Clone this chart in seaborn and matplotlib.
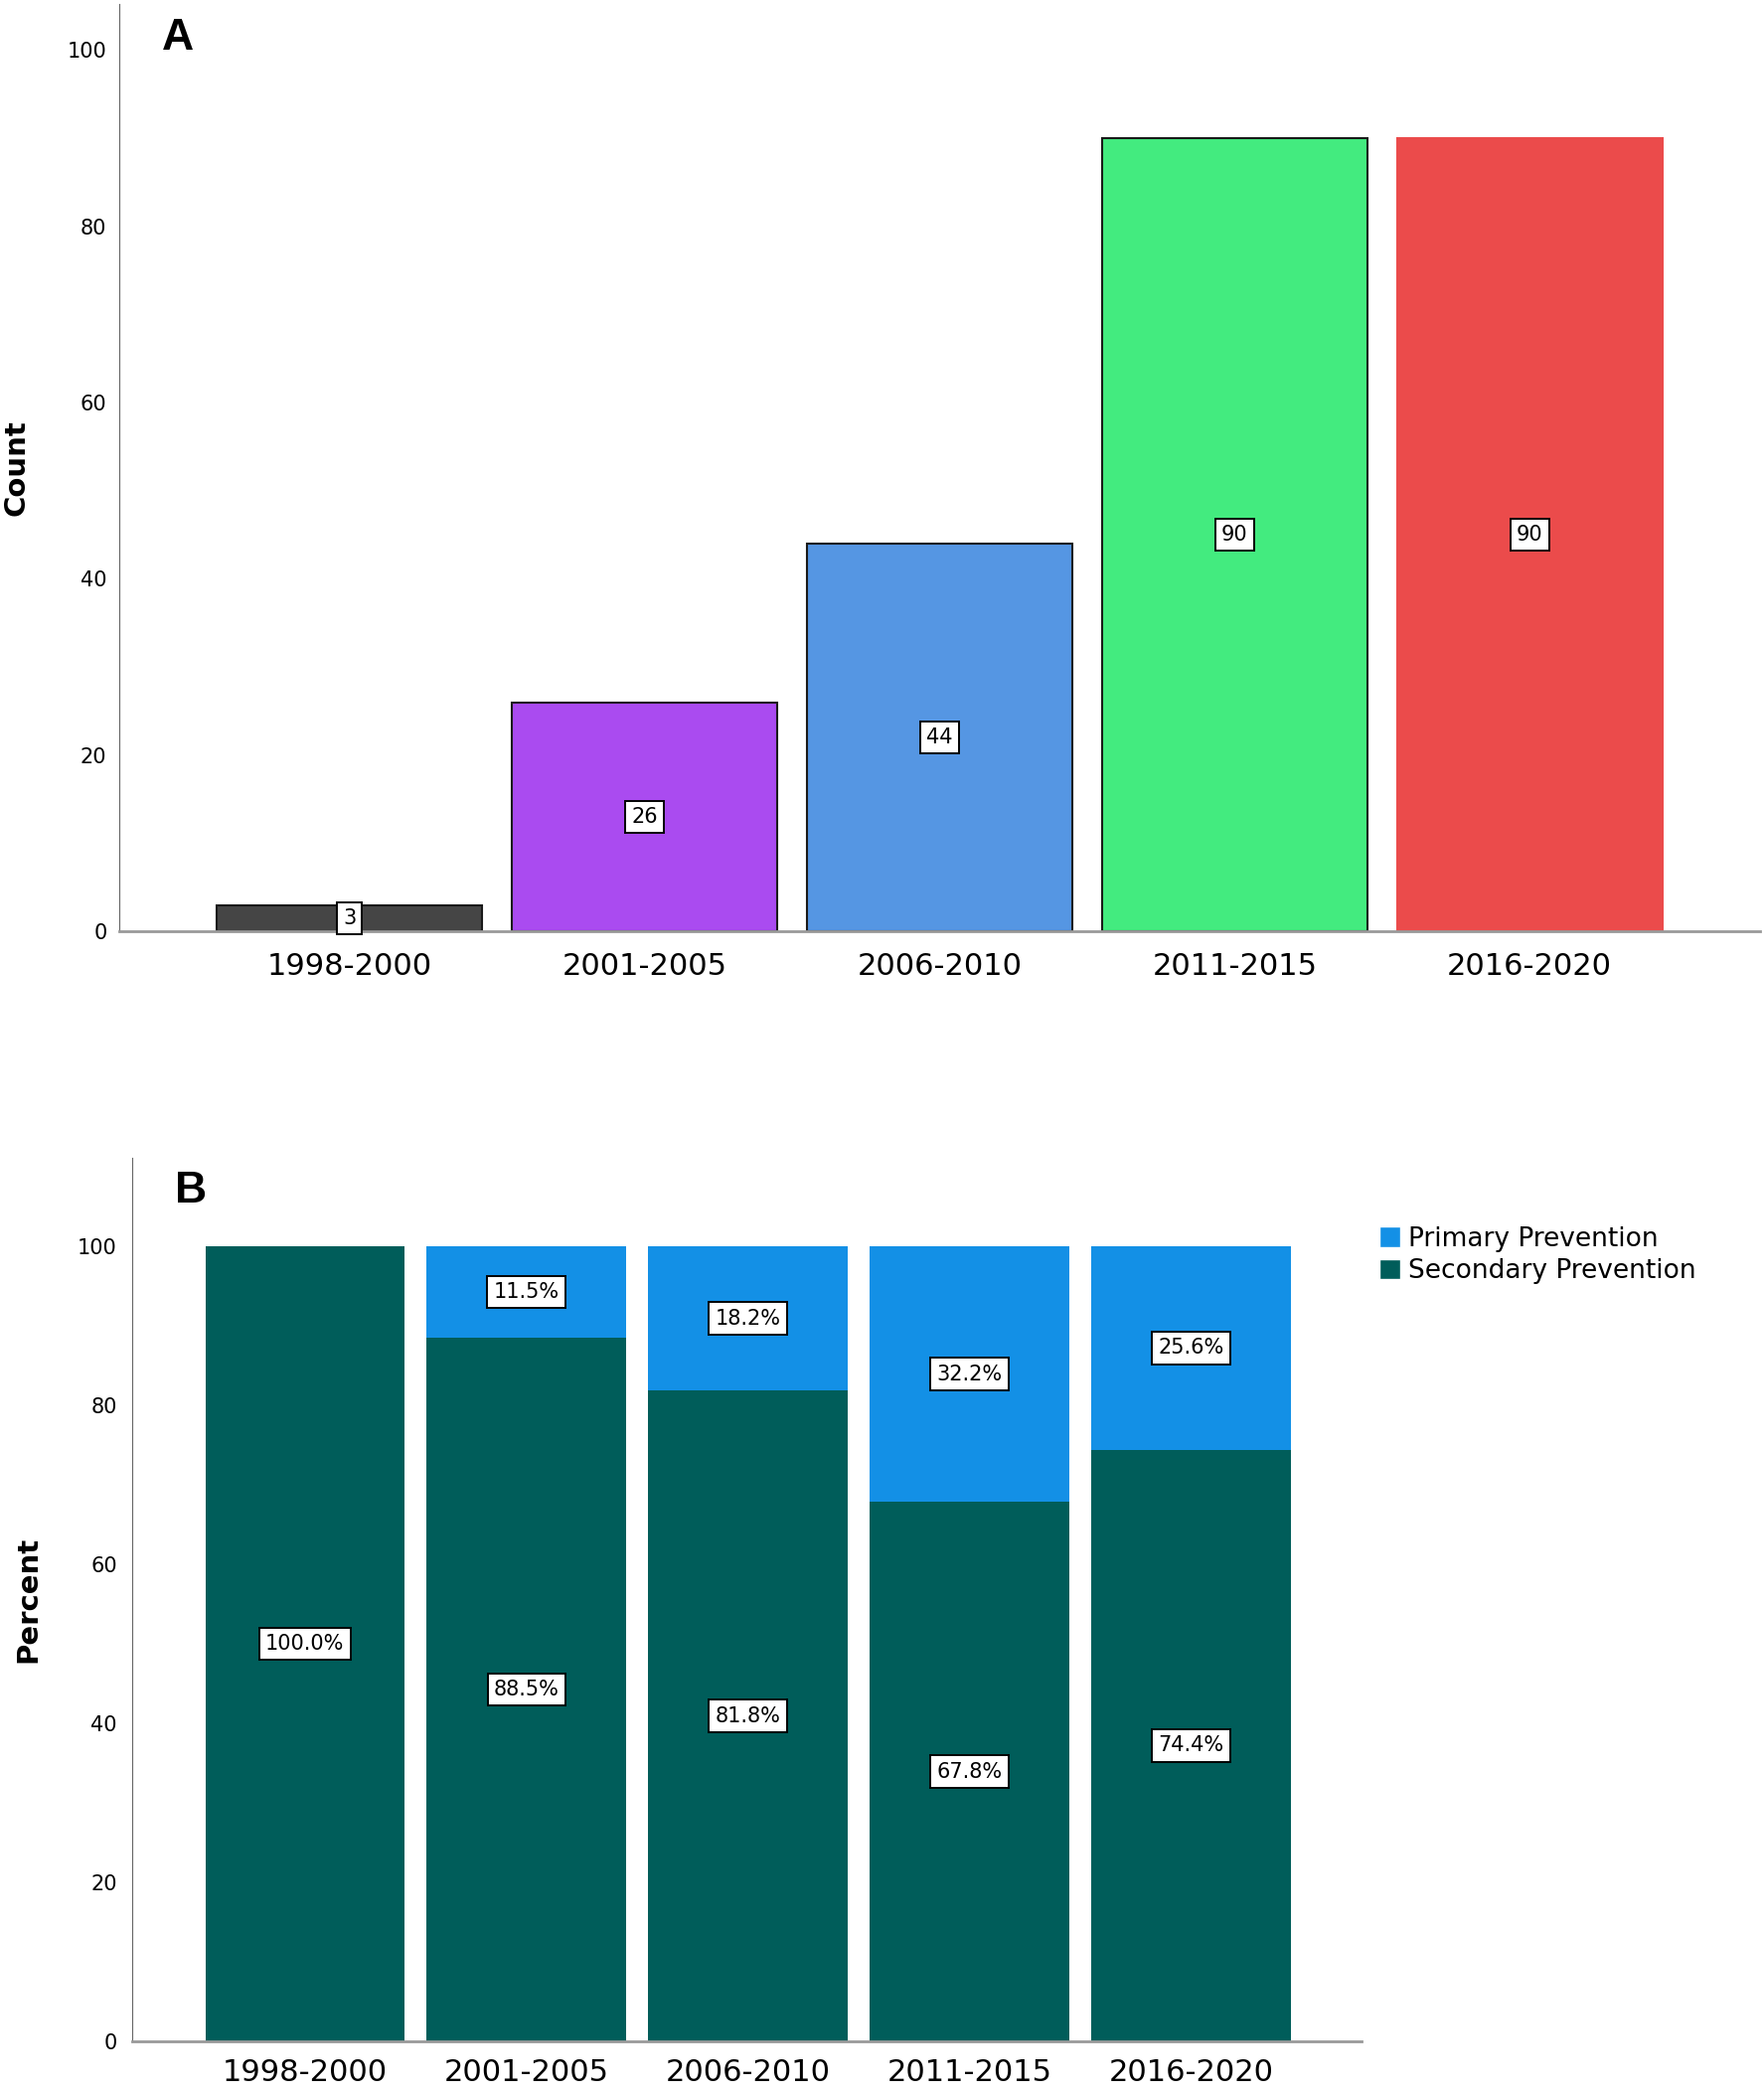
import matplotlib
matplotlib.use("Agg")
import matplotlib.pyplot as plt
import seaborn as sns
import pandas as pd
from matplotlib.patches import Patch

# data
periods = ["1998-2000", "2001-2005", "2006-2010", "2011-2015", "2016-2020"]
counts = [3, 26, 44, 90, 90]
count_colors = ["#454545", "#AA4BF0", "#5596E3", "#43EB7F", "#EB4B4B"]
count_edges = ["#1a1a1a", "#1a1a1a", "#1a1a1a", "#1a1a1a", "#EB4B4B"]

primary_pct = [0.0, 11.5, 18.2, 32.2, 25.6]
secondary_pct = [100.0, 88.5, 81.8, 67.8, 74.4]
primary_color = "#1390E6"
secondary_color = "#005D5A"

sns.set_style("white")
plt.rcParams["font.family"] = ["DejaVu Sans"]
plt.rcParams["text.color"] = "black"
plt.rcParams["axes.labelcolor"] = "black"
plt.rcParams["xtick.color"] = "black"
plt.rcParams["ytick.color"] = "black"

fig = plt.figure(figsize=(17.75, 21.06), dpi=100)

box = dict(boxstyle="square,pad=0.3", facecolor="white", edgecolor="black", linewidth=1.4)

# ---- Panel A: counts per period
ax1 = fig.add_axes([0.0676, 0.555, 0.930, 0.443])
df_a = pd.DataFrame({"Period": periods, "Count": counts})
sns.barplot(data=df_a, x="Period", y="Count", hue="Period", palette=count_colors,
            legend=False, width=0.9, ax=ax1, saturation=1)
for patch, ec in zip(ax1.patches, count_edges):
    patch.set_edgecolor(ec)
    patch.set_linewidth(1.5)
for i, v in enumerate(counts):
    ax1.text(i, v / 2, str(v), ha="center", va="center", fontsize=15, bbox=box)
ax1.set_xlim(-0.78, 4.78)
ax1.set_ylim(0, 105.2)
ax1.set_yticks([0, 20, 40, 60, 80, 100])
ax1.set_xlabel("")
ax1.set_ylabel("Count", fontsize=21, fontweight="bold")
ax1.yaxis.set_label_coords(-0.054, 0.5)
ax1.tick_params(axis="y", length=0, pad=9, labelsize=15)
ax1.tick_params(axis="x", length=0, pad=15, labelsize=22)
sns.despine(ax=ax1)
ax1.spines["left"].set_color("#666666")
ax1.spines["bottom"].set_color("#999999")
ax1.spines["bottom"].set_linewidth(2)
ax1.text(0.026, 0.985, "A", transform=ax1.transAxes, fontsize=32, fontweight="bold",
         family=["Liberation Sans", "DejaVu Sans"], va="top", ha="left")

# ---- Panel B: percent primary vs secondary
ax2 = fig.add_axes([0.0749, 0.0247, 0.697, 0.4221])
totals = [p + s for p, s in zip(primary_pct, secondary_pct)]
df_b = pd.DataFrame({"Period": periods, "Total": totals, "Secondary": secondary_pct})
sns.barplot(data=df_b, x="Period", y="Total", color=primary_color, width=0.9,
            ax=ax2, saturation=1, linewidth=0)
sns.barplot(data=df_b, x="Period", y="Secondary", color=secondary_color, width=0.9,
            ax=ax2, saturation=1, linewidth=0)
for i, (p, s) in enumerate(zip(primary_pct, secondary_pct)):
    ax2.text(i, s / 2, f"{s:.1f}%", ha="center", va="center", fontsize=15, bbox=box)
    if p > 0:
        ax2.text(i, s + p / 2, f"{p:.1f}%", ha="center", va="center", fontsize=15, bbox=box)
ax2.set_xlim(-0.78, 4.77)
ax2.set_ylim(0, 111.1)
ax2.set_yticks([0, 20, 40, 60, 80, 100])
ax2.set_xlabel("")
ax2.set_ylabel("Percent", fontsize=21, fontweight="bold")
ax2.yaxis.set_label_coords(-0.073, 0.5)
ax2.tick_params(axis="y", length=0, pad=11, labelsize=15)
ax2.tick_params(axis="x", length=0, pad=12, labelsize=22)
sns.despine(ax=ax2)
ax2.spines["left"].set_color("#666666")
ax2.spines["bottom"].set_color("#999999")
ax2.spines["bottom"].set_linewidth(2)
ax2.text(0.035, 0.985, "B", transform=ax2.transAxes, fontsize=32, fontweight="bold",
         family=["Liberation Sans", "DejaVu Sans"], va="top", ha="left")

handles = [Patch(facecolor=primary_color, label="Primary Prevention"),
           Patch(facecolor=secondary_color, label="Secondary Prevention")]
fig.legend(handles=handles, loc="upper left", bbox_to_anchor=(0.7745, 0.4205),
           frameon=False, fontsize=19, handlelength=0.8, handleheight=0.8,
           handletextpad=0.3, labelspacing=0.25, borderpad=0)

fig.savefig("out.png", dpi=100)
